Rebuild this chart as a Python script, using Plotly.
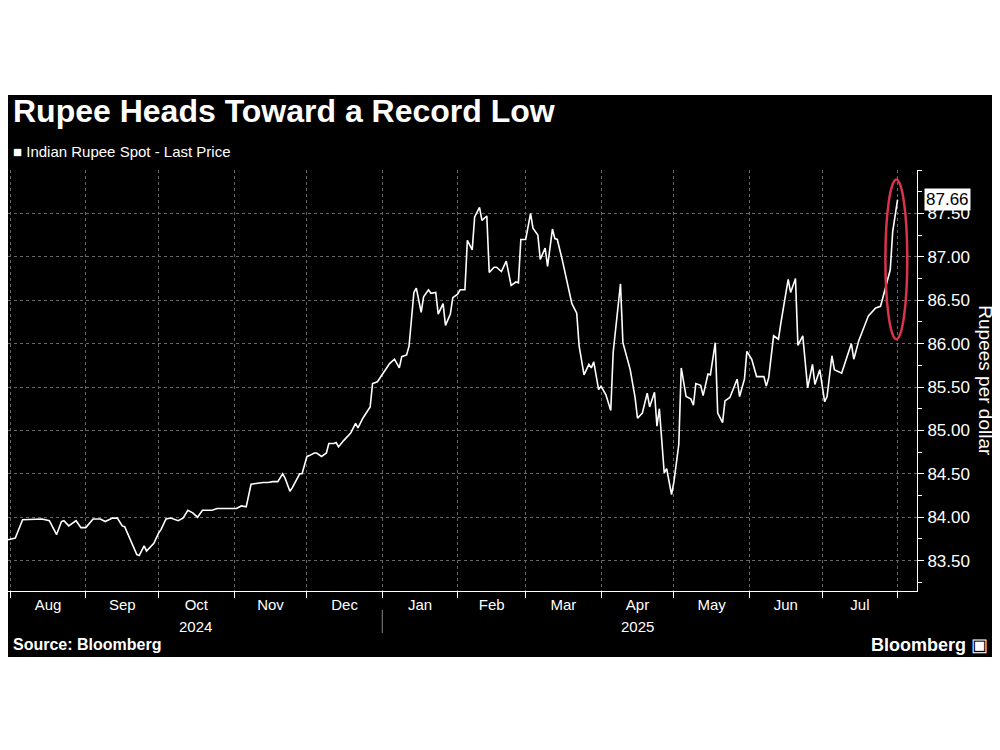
import pandas as pd
import plotly.graph_objects as go

start_date = "2024-07-31"
day_offsets = [0,3,6,14,17,20,22,23,25,28,30,32,35,38,40,43,45,47,48,51,53,54,56,57,60,62,63,65,67,70,72,74,76,78,80,82,84,86,90,94,96,98,100,102,105,107,109,111,113,114,116,117,119,120,121,123,124,126,127,129,131,132,134,135,136,138,141,143,144,146,149,150,152,155,157,159,161,162,164,165,167,168,170,171,173,174,176,177,179,180,182,183,185,186,188,189,191,192,194,195,197,198,200,201,203,
204,205,207,209,210,211,213,215,216,218,219,221,222,224,225,226,228,231,232,234,235,237,239,240,241,243,244,246,248,249,252,253,255,256,258,259,261,263,264,266,267,268,270,271,273,274,276,277,279,281,282,283,285,286,288,289,291,292,294,295,297,300,301,303,304,306,308,309,311,312,313,315,317,318,321,322,324,325,327,329,331,332,334,336,337,339,340,343,347,348,350,354,357,359,361,363,364,366]
rupee = [83.74,83.76,83.97,83.98,83.96,83.80,83.95,83.96,83.90,83.96,83.88,83.88,83.98,83.98,83.95,83.99,83.99,83.90,83.89,83.70,83.57,83.56,83.67,83.61,83.70,83.82,83.86,83.98,83.99,83.96,83.99,84.08,84.05,84.00,84.08,84.08,84.08,84.10,84.10,84.10,84.13,84.12,84.38,84.39,84.40,84.40,84.41,84.41,84.50,84.45,84.30,84.34,84.45,84.50,84.50,84.70,84.71,84.74,84.74,84.70,84.74,84.85,84.85,84.86,84.81,84.88,84.97,85.08,85.03,85.14,85.27,85.54,85.56,85.68,85.77,85.82,85.72,85.85,85.87,85.97,86.59,86.64,86.36,86.54,86.62,86.58,86.59,86.34,86.46,86.21,86.34,86.53,86.57,86.62,86.62,87.19,87.08,87.46,87.57,87.42,87.47,86.82,86.88,86.88,86.83,
86.89,86.95,86.67,86.71,86.70,87.20,87.20,87.50,87.33,87.25,86.97,87.10,86.89,87.32,87.21,87.20,86.97,86.58,86.46,86.35,85.97,85.64,85.76,85.72,85.79,85.47,85.51,85.41,85.23,85.90,86.69,86.01,85.78,85.70,85.38,85.14,85.20,85.43,85.27,85.44,85.05,85.25,84.51,84.56,84.26,84.41,84.84,85.72,85.39,85.36,85.29,85.54,85.52,85.40,85.65,85.64,86.01,85.20,85.09,85.34,85.38,85.59,85.39,85.59,85.91,85.82,85.62,85.62,85.62,85.51,85.61,86.09,86.05,86.24,86.74,86.59,86.75,85.98,86.09,85.49,85.76,85.53,85.70,85.33,85.39,85.86,85.70,85.66,86.00,85.82,86.03,86.32,86.41,86.43,86.64,86.85,87.29,87.66]
y_ticks = [83.5,84.0,84.5,85.0,85.5,86.0,86.5,87.0,87.5]
last_value = 87.66

dates = pd.to_datetime(start_date) + pd.to_timedelta(day_offsets, unit="D")

FONT = "Liberation Sans"
fig = go.Figure()
fig.add_trace(go.Scatter(x=dates, y=rupee, mode="lines",
                         line=dict(color="white", width=1.6), showlegend=False))

fig.update_layout(
    width=992, height=742, paper_bgcolor="white", plot_bgcolor="black",
    margin=dict(l=0, r=83, t=162, b=159),
    font=dict(family=FONT, color="white"),
    xaxis=dict(range=["2024-07-31", "2025-08-09"], showgrid=True,
               gridcolor="#666", griddash="dot", gridwidth=1,
               dtick="M1", tick0="2024-08-01", tickformat="%b", ticklabelmode="period",
               ticks="outside", ticklen=6, tickcolor="white", ticklabelstandoff=-6,
               showline=True, linecolor="white", linewidth=1,
               tickfont=dict(size=15, color="white"), zeroline=False),
    yaxis=dict(range=[83.15, 88.0], side="right", tickvals=y_ticks, tickformat=".2f",
               showgrid=True, gridcolor="#666", griddash="dot", gridwidth=1,
               ticks="outside", ticklen=6, tickcolor="white",
               minor=dict(dtick=0.25, ticks="outside", ticklen=4, tickcolor="white", showgrid=False),
               showline=True, linecolor="white", linewidth=1,
               tickfont=dict(size=17, color="white"), zeroline=False),
)

fig.add_shape(type="rect", xref="paper", yref="paper", x0=0, x1=1.1, y0=-0.157, y1=1.178,
              fillcolor="black", line=dict(width=0), layer="below")
fig.add_shape(type="line", xref="x", yref="paper", x0="2025-01-01", x1="2025-01-01",
              y0=-0.045, y1=-0.1, line=dict(color="#888", width=1))
fig.add_shape(type="circle", xref="x", yref="y", x0="2025-07-27", x1="2025-08-05",
              y0=86.05, y1=87.89, line=dict(color="#d8344c", width=2.5))

ann = [
    dict(text="<b>Rupee Heads Toward a Record Low</b>", x=0.003, y=1.14, size=32),
    dict(text="■ Indian Rupee Spot - Last Price", x=0.003, y=1.045, size=15),
    dict(text="<b>Source: Bloomberg</b>", x=0.003, y=-0.128, size=16),
]
for a in ann:
    fig.add_annotation(text=a["text"], xref="paper", yref="paper", x=a["x"], y=a["y"],
                       xanchor="left", yanchor="middle", showarrow=False,
                       font=dict(size=a["size"], color="white", family=FONT))
fig.add_annotation(text="<b>Bloomberg</b> ▣", xref="paper", yref="paper", x=1.08, y=-0.128,
                   xanchor="right", yanchor="middle", showarrow=False,
                   font=dict(size=18, color="white", family=FONT))
for yr, d in [("2024", "2024-10-16"), ("2025", "2025-04-16")]:
    fig.add_annotation(text=yr, xref="x", yref="paper", x=d, y=-0.085, yanchor="middle",
                       showarrow=False, font=dict(size=15, color="white", family=FONT))
fig.add_annotation(text="Rupees per dollar", xref="paper", yref="paper", x=1.075, y=0.5,
                   xanchor="center", yanchor="middle",
                   textangle=90, showarrow=False, font=dict(size=19, color="white", family=FONT))
fig.add_annotation(text=f"{last_value:.2f}", xref="paper", yref="y", x=1.008, y=last_value,
                   xanchor="left", showarrow=False, bgcolor="white", borderpad=1,
                   font=dict(size=17, color="black", family=FONT))

fig.write_html("out.html")
